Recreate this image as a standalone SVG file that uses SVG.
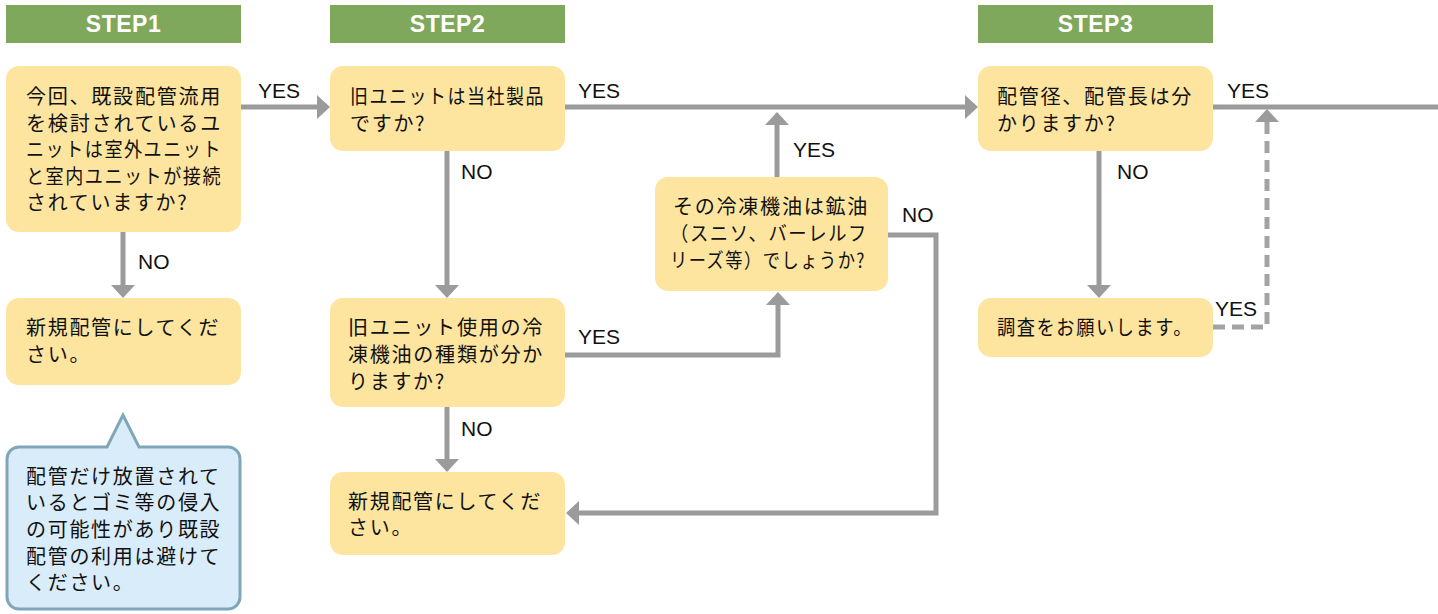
<svg xmlns="http://www.w3.org/2000/svg" width="1438" height="614" viewBox="0 0 1438 614">
<style>
.hdr{fill:#80a85c}
.hdrt{fill:#fff;font-family:"Liberation Sans",Arial,sans-serif;font-weight:bold;font-size:23px;text-anchor:middle;letter-spacing:0.5px}
.box{fill:#fde5a0}
.call{fill:#d9ecf9;stroke:#7fa6b9;stroke-width:3}
.t{fill:#111;font-family:"Noto Sans CJK JP","Noto Sans",sans-serif;font-size:20px;letter-spacing:1.7px}
.lbl{fill:#111;font-family:"Liberation Sans",Arial,sans-serif;font-size:21px}
.c{fill:none;stroke:#9b9b9b;stroke-width:5}
.d{fill:none;stroke:#a3a3a3;stroke-width:5;stroke-dasharray:12 7}
</style>
<defs>
<marker id="ah" markerUnits="userSpaceOnUse" markerWidth="14" markerHeight="24" refX="5" refY="12" orient="auto" viewBox="0 0 14 24">
<path d="M0,0 L13,12 L0,24 z" fill="#9b9b9b"/>
</marker>
</defs>

<g id="step1"><rect class="hdr" x="6" y="5" width="235" height="38"/><text class="hdrt" x="123.5" y="32">STEP1</text></g>
<g id="step2"><rect class="hdr" x="330" y="5" width="235" height="38"/><text class="hdrt" x="447.5" y="32">STEP2</text></g>
<g id="step3"><rect class="hdr" x="978" y="5" width="235" height="38"/><text class="hdrt" x="1095.5" y="32">STEP3</text></g>

<g id="connectors">
<path class="c" d="M241,107 H322" marker-end="url(#ah)"/>
<path class="c" d="M123,232 V290" marker-end="url(#ah)"/>
<path class="c" d="M447,151 V290" marker-end="url(#ah)"/>
<path class="c" d="M447,407 V464" marker-end="url(#ah)"/>
<path class="c" d="M565,107 H970" marker-end="url(#ah)"/>
<path class="c" d="M777,177 V120" marker-end="url(#ah)"/>
<path class="c" d="M565,355 H778 V300" marker-end="url(#ah)"/>
<path class="c" d="M888,235 H936 V513 H574" marker-end="url(#ah)"/>
<path class="c" d="M1213,107 H1438"/>
<path class="c" d="M1099,151 V290" marker-end="url(#ah)"/>
<path class="d" d="M1213,327 H1267 V118"/>
<path class="c" d="M1267,122 V117" marker-end="url(#ah)"/>
<text class="lbl" x="258" y="98">YES</text>
<text class="lbl" x="138" y="269">NO</text>
<text class="lbl" x="461" y="179">NO</text>
<text class="lbl" x="461" y="436">NO</text>
<text class="lbl" x="578" y="98">YES</text>
<text class="lbl" x="793" y="157">YES</text>
<text class="lbl" x="578" y="344">YES</text>
<text class="lbl" x="902" y="222">NO</text>
<text class="lbl" x="1227" y="98">YES</text>
<text class="lbl" x="1117" y="179">NO</text>
<text class="lbl" x="1215" y="316">YES</text>
</g>

<g id="nodeA"><rect class="box" x="6" y="66" width="235" height="166" rx="13"/>
<text class="t" x="26" y="104" textLength="196" lengthAdjust="spacingAndGlyphs">今回、既設配管流用</text>
<text class="t" x="26" y="131" textLength="196" lengthAdjust="spacingAndGlyphs">を検討されているユ</text>
<text class="t" x="26" y="157" textLength="196" lengthAdjust="spacingAndGlyphs">ニットは室外ユニット</text>
<text class="t" x="26" y="184" textLength="196" lengthAdjust="spacingAndGlyphs">と室内ユニットが接続</text>
<text class="t" x="26" y="210">されていますか?</text>
</g>
<g id="nodeB"><rect class="box" x="6" y="298" width="235" height="87" rx="13"/>
<text class="t" x="26" y="335">新規配管にしてくだ</text>
<text class="t" x="26" y="362">さい。</text>
</g>
<g id="note"><path class="call" d="M19,447 H107 L123,415 L139,447 H228 A12,12 0 0 1 240,459 V597 A12,12 0 0 1 228,609 H19 A12,12 0 0 1 7,597 V459 A12,12 0 0 1 19,447 Z"/>
<text class="t" x="26" y="484">配管だけ放置されて</text>
<text class="t" x="26" y="510">いるとゴミ等の侵入</text>
<text class="t" x="26" y="537">の可能性があり既設</text>
<text class="t" x="26" y="564">配管の利用は避けて</text>
<text class="t" x="26" y="590">ください。</text>
</g>
<g id="nodeC"><rect class="box" x="330" y="66" width="235" height="85" rx="13"/>
<text class="t" x="350" y="104" textLength="195" lengthAdjust="spacingAndGlyphs">旧ユニットは当社製品</text>
<text class="t" x="350" y="131">ですか?</text>
</g>
<g id="nodeD"><rect class="box" x="330" y="298" width="235" height="109" rx="13"/>
<text class="t" x="348" y="335" textLength="196" lengthAdjust="spacingAndGlyphs">旧ユニット使用の冷</text>
<text class="t" x="348" y="362" textLength="196" lengthAdjust="spacingAndGlyphs">凍機油の種類が分か</text>
<text class="t" x="348" y="389">りますか?</text>
</g>
<g id="nodeE"><rect class="box" x="330" y="472" width="235" height="83" rx="13"/>
<text class="t" x="348" y="509">新規配管にしてくだ</text>
<text class="t" x="348" y="535">さい。</text>
</g>
<g id="nodeF"><rect class="box" x="655" y="177" width="233" height="114" rx="13"/>
<text class="t" x="673" y="214" textLength="196" lengthAdjust="spacingAndGlyphs">その冷凍機油は鉱油</text>
<text class="t" x="670" y="241" textLength="198" lengthAdjust="spacingAndGlyphs">（スニソ、バーレルフ</text>
<text class="t" x="670" y="268" textLength="196" lengthAdjust="spacingAndGlyphs">リーズ等）でしょうか?</text>
</g>
<g id="nodeG"><rect class="box" x="978" y="66" width="235" height="85" rx="13"/>
<text class="t" x="997" y="104" textLength="196" lengthAdjust="spacingAndGlyphs">配管径、配管長は分</text>
<text class="t" x="997" y="131">かりますか?</text>
</g>
<g id="nodeH"><rect class="box" x="978" y="298" width="235" height="59" rx="13"/>
<text class="t" x="997" y="335" textLength="196" lengthAdjust="spacingAndGlyphs">調査をお願いします。</text>
</g>
</svg>
